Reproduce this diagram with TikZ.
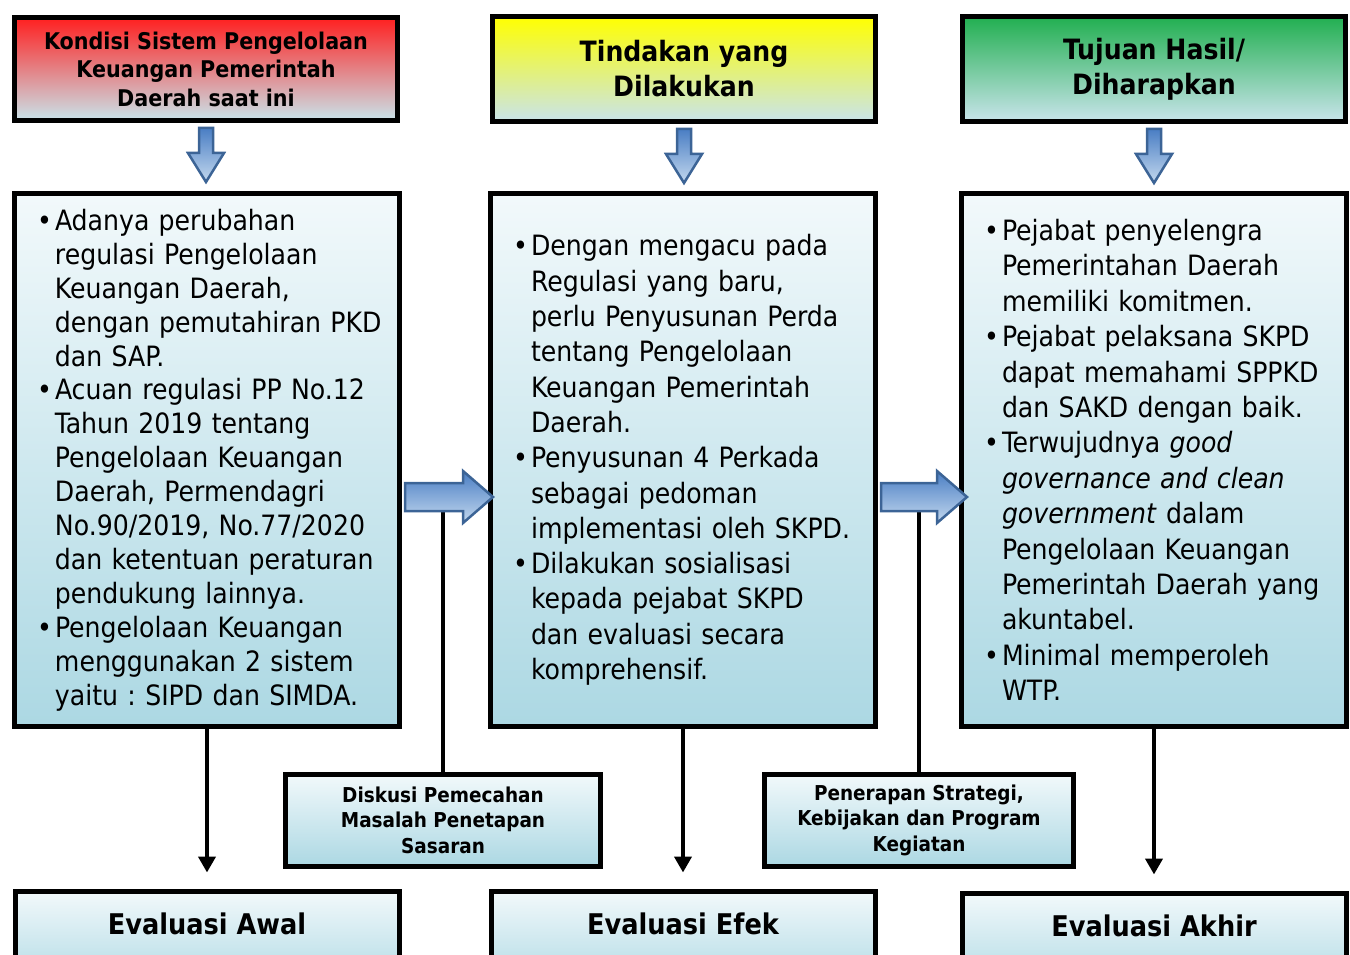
\documentclass[tikz,border=0pt]{standalone}
\usepackage{fontspec}
\setmainfont{DejaVu Sans Condensed}
\usepackage{xcolor}
\usepackage{tikz}
\usetikzlibrary{arrows.meta,calc}
\definecolor{KondisiRed}{HTML}{FF1F1F}
\definecolor{TindakanYellow}{HTML}{FFFF00}
\definecolor{TujuanGreen}{HTML}{21AF50}
\definecolor{PaleBlue}{HTML}{C9E4EB}
\definecolor{BoxTop}{HTML}{F2F9FB}
\definecolor{BoxBottom}{HTML}{ACD8E3}
\definecolor{ArrowEdge}{HTML}{3C6496}
\definecolor{ArrowTop}{HTML}{4A7EC4}
\definecolor{ArrowBottom}{HTML}{C3D8EE}
\newcommand{\bul}{\hspace*{10pt}\makebox[18pt][l]{\textbullet}}
\newcommand{\ind}{\hspace*{28pt}}

\begin{document}
\frenchspacing
\begin{tikzpicture}[
	x=1pt, y=-1pt,
	box/.style={draw, line width=5pt, inner sep=0pt, align=center},
	header/.style={box, minimum width=383pt, minimum height=105pt, bottom color=PaleBlue},
	listbox/.style={box, align=left, text width=360pt, inner xsep=12.5pt, minimum height=533pt, top color=BoxTop, bottom color=BoxBottom},
	stagebox/.style={box, minimum height=92pt, top color=BoxTop, bottom color=BoxBottom, font=\bfseries\fontsize{20.5}{25.5}\selectfont},
	evalbox/.style={box, minimum width=384pt, minimum height=100pt, top color=BoxTop, bottom color=BoxBottom, text depth=35pt, font=\bfseries\fontsize{28.5}{32}\selectfont},
	blockarrow/.style={draw=ArrowEdge, line width=2.5pt, line join=miter, top color=ArrowTop, bottom color=ArrowBottom},
	arrow/.style={line width=4pt, -{Triangle[width=17pt,length=16pt]}, shorten >=16pt},
	link/.style={line width=4pt}
]
\useasboundingbox (0,0) rectangle (1350,955);
\clip (0,0) rectangle (1350,955);

\node[header, minimum height=103pt, top color=KondisiRed, font=\bfseries\fontsize{23}{28.5}\selectfont] (kondisi) at (206,69)
	{Kondisi Sistem Pengelolaan\\Keuangan Pemerintah\\Daerah saat ini};
\node[header, top color=TindakanYellow, font=\bfseries\fontsize{28}{35}\selectfont] (tindakan) at (684,69)
	{Tindakan yang\\Dilakukan};
\node[header, top color=TujuanGreen, font=\bfseries\fontsize{28}{35}\selectfont] (tujuan) at (1154,69)
	{Tujuan Hasil/\\Diharapkan};

\node[listbox, font=\fontsize{28}{33.9}\selectfont] (kondisiList) at (207,460)
	{\bul Adanya perubahan\\
	\ind regulasi Pengelolaan\\
	\ind Keuangan Daerah,\\
	\ind dengan pemutahiran PKD\\
	\ind dan SAP.\\
	\bul Acuan regulasi PP No.12\\
	\ind Tahun 2019 tentang\\
	\ind Pengelolaan Keuangan\\
	\ind Daerah, Permendagri\\
	\ind No.90/2019, No.77/2020\\
	\ind dan ketentuan peraturan\\
	\ind pendukung lainnya.\\
	\bul Pengelolaan Keuangan\\
	\ind menggunakan 2 sistem\\
	\ind yaitu : SIPD dan SIMDA.};
\node[listbox, font=\fontsize{28}{35.3}\selectfont] (tindakanList) at (683,460)
	{\bul Dengan mengacu pada\\
	\ind Regulasi yang baru,\\
	\ind perlu Penyusunan Perda\\
	\ind tentang Pengelolaan\\
	\ind Keuangan Pemerintah\\
	\ind Daerah.\\
	\bul Penyusunan 4 Perkada\\
	\ind sebagai pedoman\\
	\ind implementasi oleh SKPD.\\
	\bul Dilakukan sosialisasi\\
	\ind kepada pejabat SKPD\\
	\ind dan evaluasi secara\\
	\ind komprehensif.};
\node[listbox, font=\fontsize{28}{35.4}\selectfont] (tujuanList) at (1154,460)
	{\bul Pejabat penyelengra\\
	\ind Pemerintahan Daerah\\
	\ind memiliki komitmen.\\
	\bul Pejabat pelaksana SKPD\\
	\ind dapat memahami SPPKD\\
	\ind dan SAKD dengan baik.\\
	\bul Terwujudnya \textit{good}\\
	\ind \textit{governance and clean}\\
	\ind \textit{government} dalam\\
	\ind Pengelolaan Keuangan\\
	\ind Pemerintah Daerah yang\\
	\ind akuntabel.\\
	\bul Minimal memperoleh\\
	\ind WTP.};

\node[stagebox, minimum width=315pt] (diskusi) at (443,820)
	{Diskusi Pemecahan\\Masalah Penetapan\\Sasaran};
\node[stagebox, minimum width=309pt] (penerapan) at (919,820)
	{Penerapan Strategi,\\Kebijakan dan Program\\Kegiatan};

\node[evalbox] (awal) at (207,941) {Evaluasi Awal};
\node[evalbox] (efek) at (683,941) {Evaluasi Efek};
\node[evalbox] (akhir) at (1154,943) {Evaluasi Akhir};

\foreach \head/\list in {kondisi/kondisiList, tindakan/tindakanList, tujuan/tujuanList}
	\shade[blockarrow] ($(\head.south)+(-7,5)$) -- ++(0,25) -- ++(-11,0) -- ++(18,29)
		-- ++(18,-29) -- ++(-11,0) -- ++(0,-25) -- cycle;

\coordinate (gapA) at ($(kondisiList.east)+(0,50)$);
\coordinate (gapB) at ($(tindakanList.east)+(0,50)$);
\draw[link] (diskusi.north) -- (diskusi.north |- gapA);
\draw[link] (penerapan.north) -- (penerapan.north |- gapB);

\shade[blockarrow] ($(kondisiList.east)+(3,23)$) -- ++(58,0) -- ++(0,-12) -- ++(30,26)
	-- ++(-30,26) -- ++(0,-12) -- ++(-58,0) -- cycle;
\shade[blockarrow] ($(tindakanList.east)+(3,23)$) -- ++(56,0) -- ++(0,-12) -- ++(30,26)
	-- ++(-30,26) -- ++(0,-12) -- ++(-56,0) -- cycle;

\draw[arrow] (kondisiList.south) -- (kondisiList.south |- awal.north);
\draw[arrow] (tindakanList.south) -- (tindakanList.south |- efek.north);
\draw[arrow] (tujuanList.south) -- (tujuanList.south |- akhir.north);
\end{tikzpicture}
\end{document}
